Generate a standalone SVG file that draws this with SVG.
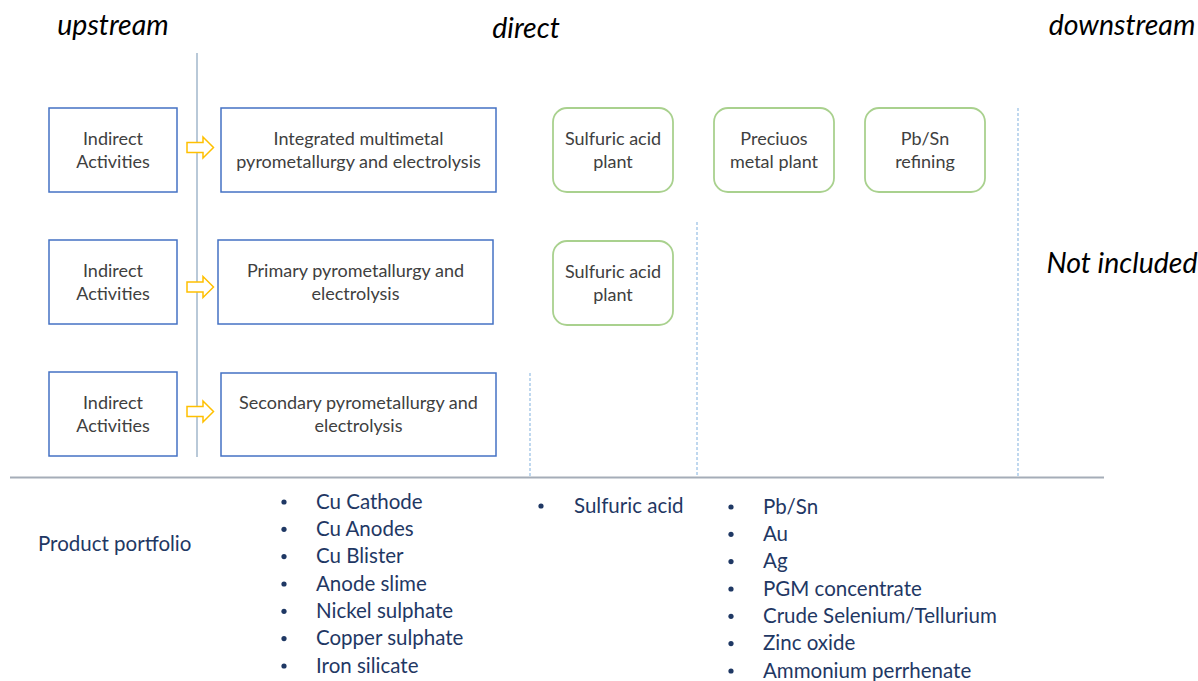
<svg xmlns="http://www.w3.org/2000/svg" width="1198" height="681" viewBox="0 0 1198 681">
  <style>
    .hdr { font-family: Lato, "Open Sans", sans-serif; font-style: italic; font-size: 28.5px; fill: #000; }
    .lbl { font-family: Lato, "Open Sans", sans-serif; font-size: 18px; fill: #404040; text-anchor: middle; }
    .item { font-family: Lato, "Open Sans", sans-serif; font-size: 20.5px; fill: #1f3864; }
    .bullet { fill: #1f3864; }
    .box { fill: #fff; stroke: #4472c4; stroke-width: 1.5; }
    .plant { fill: #fff; stroke: #a9d18e; stroke-width: 1.8; }
    .arrow { fill: #fff; stroke: #ffc000; stroke-width: 1.5; stroke-linejoin: miter; }
    .sep { stroke: #9dc3e6; stroke-width: 1.3; stroke-dasharray: 3 2; fill: none; }
  </style>

  <!-- column headings -->
  <text class="hdr" x="113" y="35" text-anchor="middle">upstream</text>
  <text class="hdr" x="526" y="38" text-anchor="middle">direct</text>
  <text class="hdr" x="1122" y="35" text-anchor="middle">downstream</text>
  <text class="hdr" x="1122" y="273" text-anchor="middle">Not included</text>

  <!-- boundary lines and block arrows -->
  <g id="connectors">
    <line x1="197" y1="53" x2="197" y2="457" stroke="#a8bccf" stroke-width="1.6"/>
    <line class="sep" x1="530" y1="373" x2="530" y2="476"/>
    <line class="sep" x1="697" y1="222" x2="697" y2="476"/>
    <line class="sep" x1="1018" y1="108" x2="1018" y2="476"/>
    <line x1="10" y1="477.5" x2="1104" y2="477.5" stroke="#a5adb8" stroke-width="1.8"/>
    <path class="arrow" d="M187 142.5 H203 V137 L213.5 147.5 L203 158 V152.5 H187 Z"/>
    <path class="arrow" d="M187 282 H203 V276.5 L213.5 287 L203 297.5 V292 H187 Z"/>
    <path class="arrow" d="M187 406.5 H203 V401 L213.5 411.5 L203 422 V416.5 H187 Z"/>
  </g>

  <!-- row 1 -->
  <g id="indirect1">
    <rect class="box" x="49" y="108" width="128" height="84"/>
    <text class="lbl" x="113" y="145">Indirect</text>
    <text class="lbl" x="113" y="168">Activities</text>
  </g>
  <g id="integrated">
    <rect class="box" x="221" y="108" width="275" height="84"/>
    <text class="lbl" x="358.5" y="145">Integrated multimetal</text>
    <text class="lbl" x="358.5" y="168">pyrometallurgy and electrolysis</text>
  </g>
  <g id="sulfuric1">
    <rect class="plant" x="553" y="108" width="120" height="84" rx="14"/>
    <text class="lbl" x="613" y="145">Sulfuric acid</text>
    <text class="lbl" x="613" y="168">plant</text>
  </g>
  <g id="precious">
    <rect class="plant" x="714" y="108" width="120" height="84" rx="14"/>
    <text class="lbl" x="774" y="145">Preciuos</text>
    <text class="lbl" x="774" y="168">metal plant</text>
  </g>
  <g id="pbsn">
    <rect class="plant" x="865" y="108" width="120" height="84" rx="14"/>
    <text class="lbl" x="925" y="145">Pb/Sn</text>
    <text class="lbl" x="925" y="168">refining</text>
  </g>

  <!-- row 2 -->
  <g id="indirect2">
    <rect class="box" x="49" y="240" width="128" height="84"/>
    <text class="lbl" x="113" y="277">Indirect</text>
    <text class="lbl" x="113" y="300">Activities</text>
  </g>
  <g id="primary">
    <rect class="box" x="218" y="240" width="275" height="84"/>
    <text class="lbl" x="355.5" y="277">Primary pyrometallurgy and</text>
    <text class="lbl" x="355.5" y="300">electrolysis</text>
  </g>
  <g id="sulfuric2">
    <rect class="plant" x="553" y="241" width="120" height="84" rx="14"/>
    <text class="lbl" x="613" y="278">Sulfuric acid</text>
    <text class="lbl" x="613" y="301">plant</text>
  </g>

  <!-- row 3 -->
  <g id="indirect3">
    <rect class="box" x="49" y="372" width="128" height="84"/>
    <text class="lbl" x="113" y="409">Indirect</text>
    <text class="lbl" x="113" y="432">Activities</text>
  </g>
  <g id="secondary">
    <rect class="box" x="221" y="373" width="275" height="83"/>
    <text class="lbl" x="358.5" y="409">Secondary pyrometallurgy and</text>
    <text class="lbl" x="358.5" y="432">electrolysis</text>
  </g>

  <!-- product portfolio -->
  <g id="portfolio">
    <text class="item" x="38" y="551">Product portfolio</text>

    <g class="bullet">
      <circle cx="284" cy="502" r="2.6"/>
      <circle cx="284" cy="529.3" r="2.6"/>
      <circle cx="284" cy="556.6" r="2.6"/>
      <circle cx="284" cy="584" r="2.6"/>
      <circle cx="284" cy="611.3" r="2.6"/>
      <circle cx="284" cy="638.6" r="2.6"/>
      <circle cx="284" cy="666" r="2.6"/>
      <circle cx="541" cy="506" r="2.6"/>
      <circle cx="731" cy="507" r="2.6"/>
      <circle cx="731" cy="534.3" r="2.6"/>
      <circle cx="731" cy="561.6" r="2.6"/>
      <circle cx="731" cy="589" r="2.6"/>
      <circle cx="731" cy="616.3" r="2.6"/>
      <circle cx="731" cy="643.6" r="2.6"/>
      <circle cx="731" cy="671" r="2.6"/>
    </g>

    <text class="item" x="316" y="508.5">Cu Cathode</text>
    <text class="item" x="316" y="535.8">Cu Anodes</text>
    <text class="item" x="316" y="563.1">Cu Blister</text>
    <text class="item" x="316" y="590.5">Anode slime</text>
    <text class="item" x="316" y="617.8">Nickel sulphate</text>
    <text class="item" x="316" y="645.1">Copper sulphate</text>
    <text class="item" x="316" y="672.5">Iron silicate</text>

    <text class="item" x="574" y="512.5">Sulfuric acid</text>

    <text class="item" x="763" y="513.5">Pb/Sn</text>
    <text class="item" x="763" y="540.8">Au</text>
    <text class="item" x="763" y="568.1">Ag</text>
    <text class="item" x="763" y="595.5">PGM concentrate</text>
    <text class="item" x="763" y="622.8">Crude Selenium/Tellurium</text>
    <text class="item" x="763" y="650.1">Zinc oxide</text>
    <text class="item" x="763" y="677.5">Ammonium perrhenate</text>
  </g>
</svg>
